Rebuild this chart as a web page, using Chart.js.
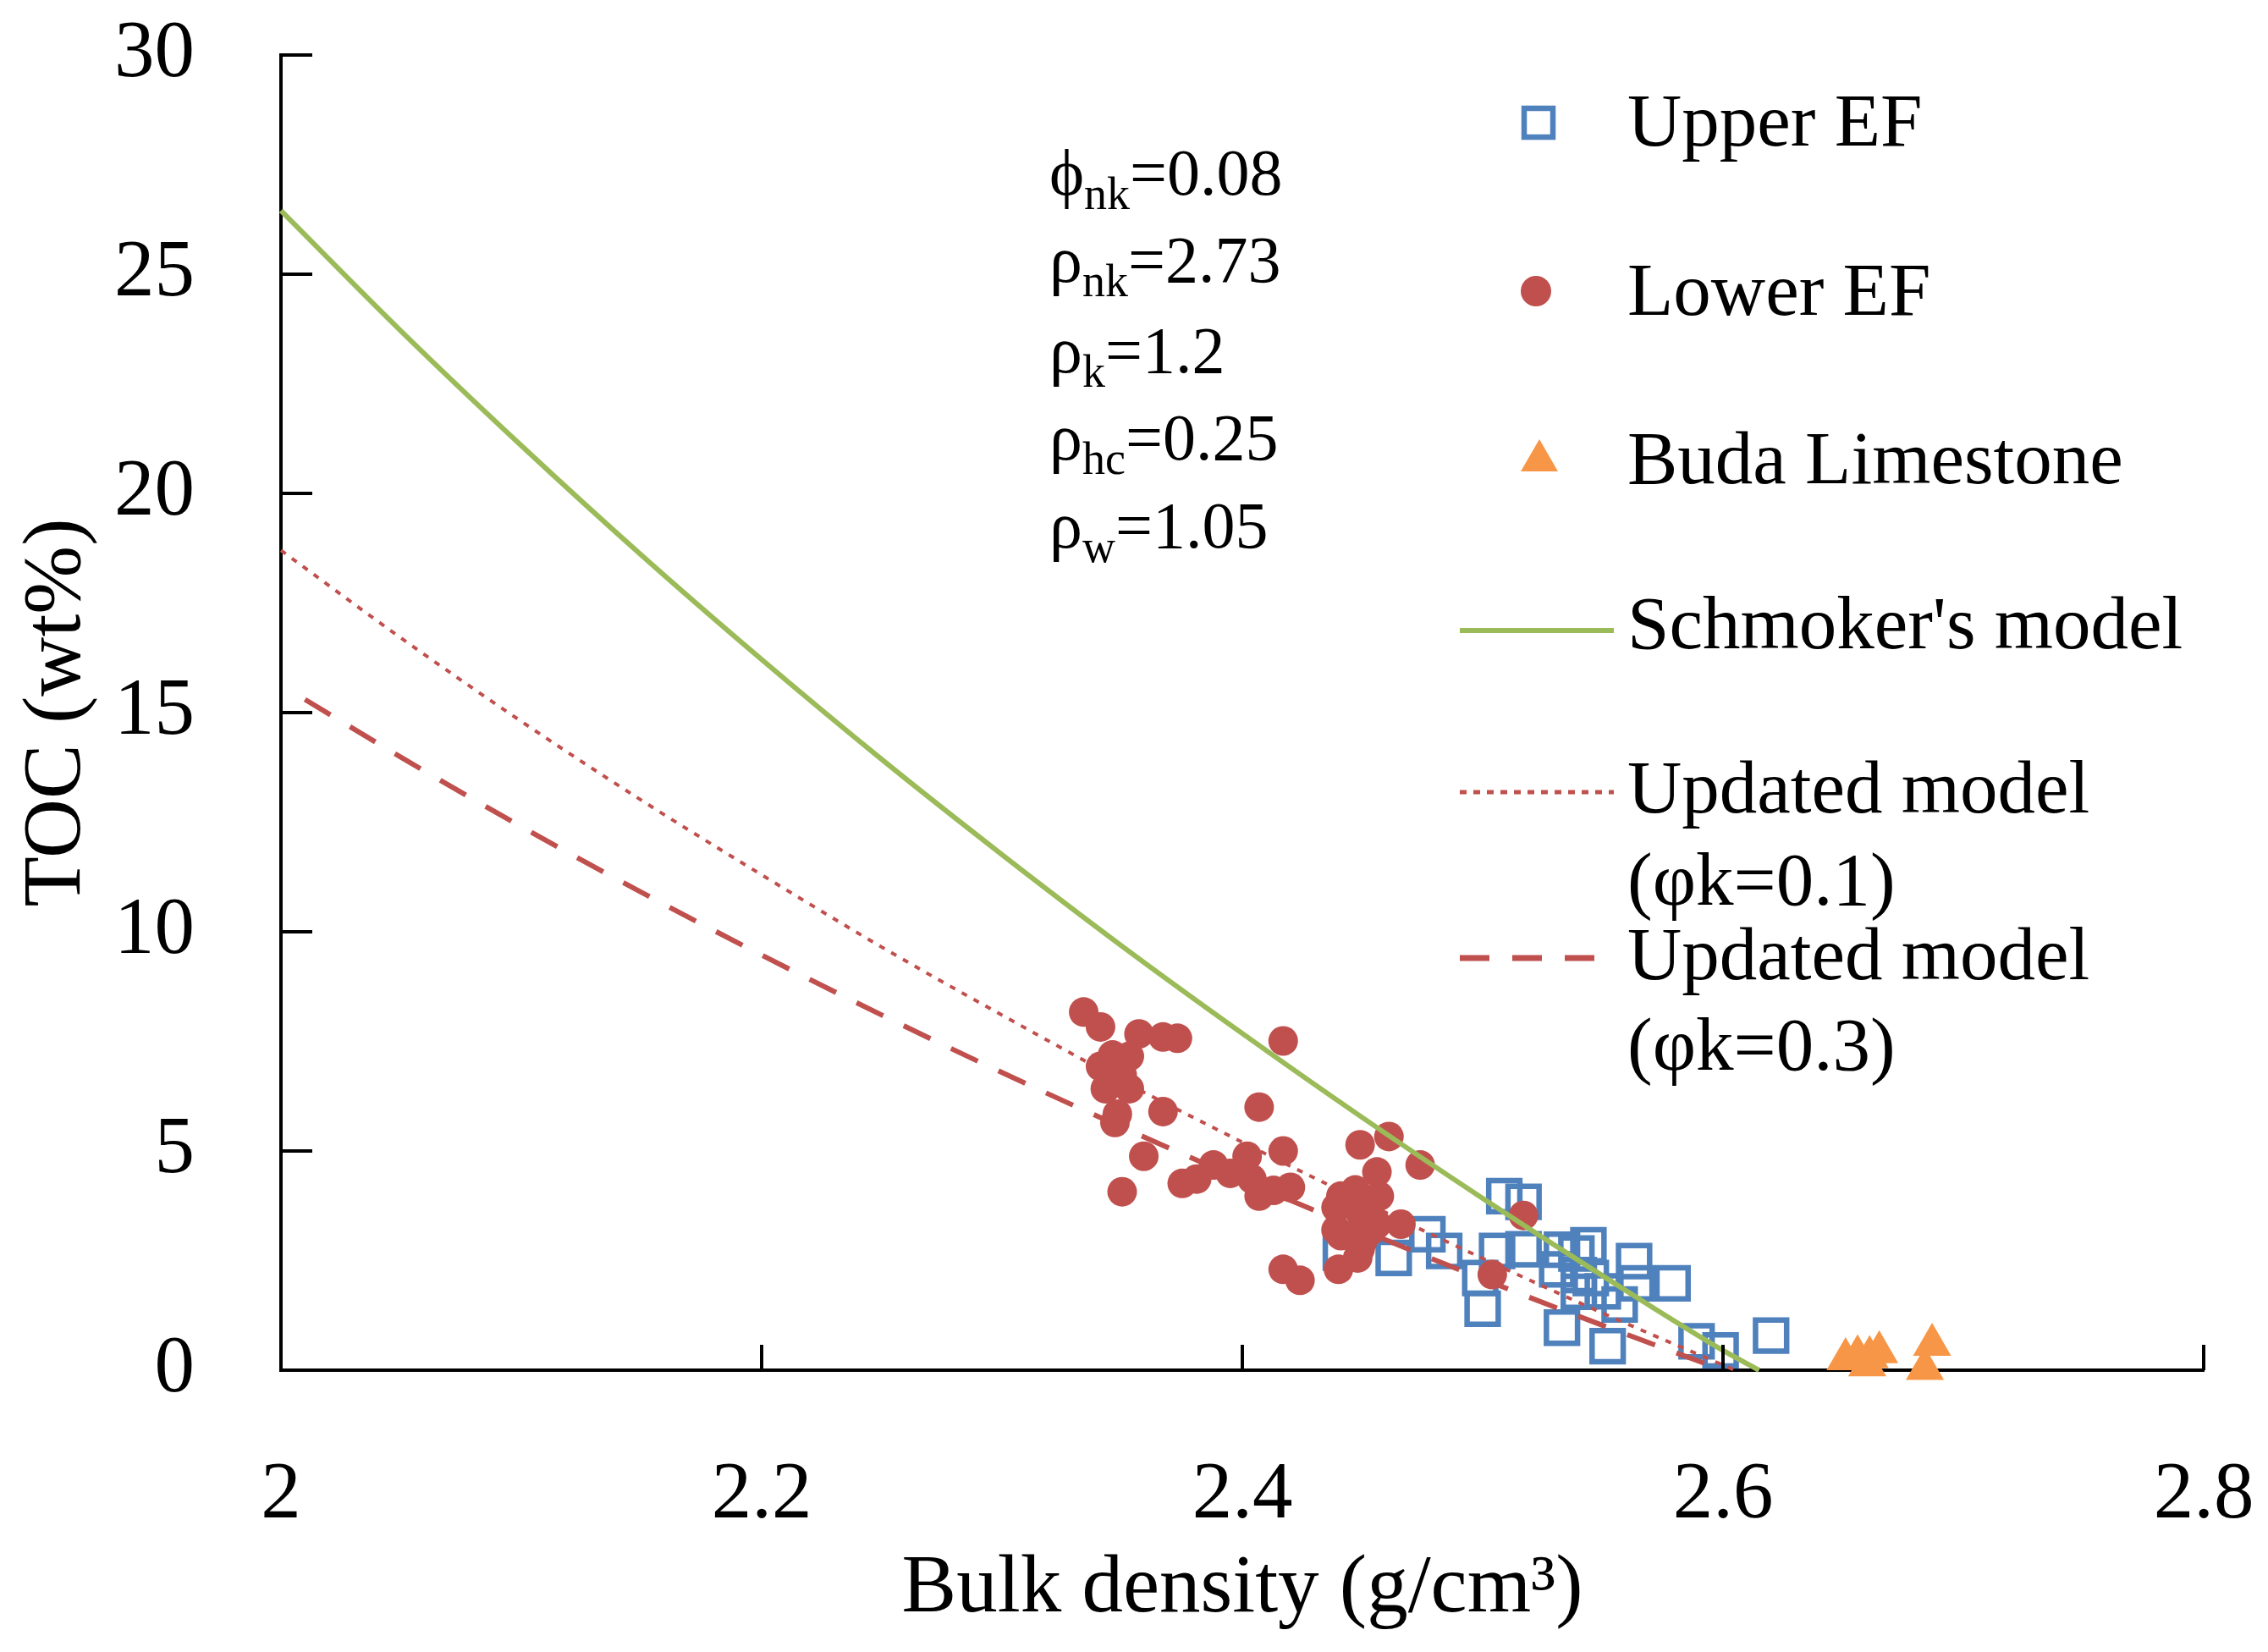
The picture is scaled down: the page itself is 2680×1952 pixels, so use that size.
<!DOCTYPE html>
<html>
<head>
<meta charset="utf-8">
<script src="https://cdn.jsdelivr.net/npm/chart.js@4.4.0/dist/chart.umd.min.js"></script>
<style>
  body { margin: 0; background: #fff; }
  #wrap { width: 2680px; height: 1952px; }
</style>
</head>
<body>
<div id="wrap"><canvas id="tocChart" width="2680" height="1952"></canvas></div>
<script>
// axis ticks
var densityTicks = [2, 2.2, 2.4, 2.6, 2.8];
var tocTicks = [0, 5, 10, 15, 20, 25, 30];

// Upper EF (blue squares)
var upperDensity = [2.441, 2.463, 2.477, 2.484, 2.499, 2.500, 2.506, 2.509, 2.517, 2.517, 2.533, 2.539, 2.531, 2.540, 2.540, 2.550, 2.557, 2.563, 2.564, 2.579, 2.533, 2.552, 2.589, 2.599, 2.620, 2.545, 2.544];
var upperToc     = [2.68, 2.56, 3.10, 2.72, 2.10, 1.40, 2.72, 3.97, 3.84, 2.76, 2.75, 2.66, 2.30, 2.17, 1.79, 1.80, 1.50, 2.49, 1.98, 1.98, 0.97, 0.55, 0.66, 0.45, 0.79, 2.10, 2.85];

// Lower EF (red circles)
var lowerDensity = [2.334, 2.341, 2.357, 2.367, 2.373, 2.346, 2.353, 2.341, 2.350, 2.343, 2.353, 2.348, 2.347, 2.367, 2.407, 2.417, 2.449, 2.461, 2.359, 2.417,
                    2.350, 2.375, 2.381, 2.388, 2.395, 2.402, 2.407, 2.404, 2.420, 2.413, 2.417, 2.424, 2.441, 2.456, 2.441, 2.449, 2.454, 2.440, 2.449, 2.457,
                    2.447, 2.474, 2.439, 2.450, 2.466, 2.439, 2.456, 2.450, 2.448, 2.517, 2.504];
var lowerToc     = [8.17, 7.83, 7.67, 7.60, 7.57, 7.19, 7.16, 6.93, 6.74, 6.42, 6.42, 5.84, 5.65, 5.90, 6.00, 7.51, 5.14, 5.33, 4.88, 5.00,
                    4.07, 4.26, 4.36, 4.68, 4.49, 4.88, 3.97, 4.36, 4.17, 4.10, 2.30, 2.05, 3.97, 4.52, 3.07, 3.59, 3.20, 2.30, 2.76, 3.97,
                    4.11, 4.68, 3.71, 3.78, 3.33, 3.20, 3.33, 2.94, 2.56, 3.53, 2.18];

// Buda Limestone (orange triangles)
var budaDensity = [2.651, 2.656, 2.661, 2.665, 2.660, 2.687, 2.684];
var budaToc     = [0.25, 0.32, 0.30, 0.41, 0.11, 0.58, 0.03];

// Schmoker's model
var schmokerDensity = [2.0, 2.05, 2.1, 2.15, 2.2, 2.25, 2.3, 2.35, 2.4, 2.45, 2.5, 2.55, 2.6, 2.615];
var schmokerToc     = [26.45, 23.70, 21.09, 18.59, 16.21, 13.93, 11.76, 9.67, 7.68, 5.76, 3.92, 2.15, 0.45, 0.0];

// Updated model (phi k = 0.1)
var upd1Density = [2.0, 2.05, 2.1, 2.15, 2.2, 2.25, 2.3, 2.35, 2.4, 2.45, 2.5, 2.55, 2.605];
var upd1Toc     = [18.7, 16.7, 14.8, 13.0, 11.3, 9.65, 8.1, 6.6, 5.2, 3.85, 2.55, 1.3, 0.0];

// Updated model (phi k = 0.3)
var upd3Density = [2.01, 2.05, 2.1, 2.15, 2.2, 2.25, 2.3, 2.35, 2.4, 2.45, 2.5, 2.55, 2.6];
var upd3Toc     = [15.3, 13.98, 12.40, 10.90, 9.47, 8.10, 6.79, 5.54, 4.34, 3.19, 2.08, 1.02, 0.0];

// parameter box
var paramSymbols = ['\u03D5', '\u03C1', '\u03C1', '\u03C1', '\u03C1'];
var paramSubs = ['nk', 'nk', 'k', 'hc', 'w'];
var paramValues = ['0.08', '2.73', '1.2', '0.25', '1.05'];

var BLUE = '#4F81BD', RED = '#C0504D', GREEN = '#9BBB59', ORANGE = '#F79646';
var SERIF = '"Liberation Serif", "Times New Roman", serif';

function pts(xs, ys) {
  return xs.map(function (x, i) { return { x: x, y: ys[i] }; });
}

// inward tick marks
var innerTicks = {
  id: 'innerTicks',
  afterDraw: function (chart) {
    var ctx = chart.ctx, xs = chart.scales.x, ys = chart.scales.y;
    var area = chart.chartArea;
    ctx.save();
    ctx.strokeStyle = '#000';
    ctx.lineWidth = 4;
    ctx.beginPath();
    tocTicks.forEach(function (v) {
      if (v === 0) return;
      var py = ys.getPixelForValue(v);
      ctx.moveTo(area.left, py);
      ctx.lineTo(area.left + 37, py);
    });
    densityTicks.forEach(function (v) {
      if (v === 2) return;
      var px = xs.getPixelForValue(v);
      ctx.moveTo(px, area.bottom);
      ctx.lineTo(px, area.bottom - 30);
    });
    ctx.stroke();
    ctx.restore();
  }
};

// legend and parameter text
var sideText = {
  id: 'sideText',
  afterDraw: function (chart) {
    var ctx = chart.ctx;
    ctx.save();
    ctx.fillStyle = '#000';
    ctx.textBaseline = 'alphabetic';
    ctx.textAlign = 'left';

    // parameters
    var baseY = [230, 333, 440, 543, 647];
    paramSymbols.forEach(function (s, i) {
      var x = 1240;
      ctx.font = '78px ' + SERIF;
      ctx.fillText(s, x, baseY[i]);
      x += ctx.measureText(s).width;
      ctx.font = '54px ' + SERIF;
      ctx.fillText(paramSubs[i], x, baseY[i] + 17);
      x += ctx.measureText(paramSubs[i]).width;
      ctx.font = '78px ' + SERIF;
      ctx.fillText('=' + paramValues[i], x, baseY[i]);
    });

    // legend
    var tx = 1923;
    ctx.font = '89px ' + SERIF;
    ctx.fillText('Upper EF', tx, 172);
    ctx.fillText('Lower EF', tx, 372);
    ctx.fillText('Buda Limestone', tx, 571);
    ctx.fillText("Schmoker's model", tx, 766);
    ctx.fillText('Updated model', tx, 960);
    ctx.fillText('(\u03C6k=0.1)', tx, 1069);
    ctx.fillText('Updated model', tx, 1157);
    ctx.fillText('(\u03C6k=0.3)', tx, 1264);

    ctx.strokeStyle = BLUE;
    ctx.lineWidth = 6.5;
    ctx.strokeRect(1818 - 17, 145 - 17, 34, 34);

    ctx.fillStyle = RED;
    ctx.beginPath();
    ctx.arc(1815, 344, 18, 0, Math.PI * 2);
    ctx.fill();

    ctx.fillStyle = ORANGE;
    ctx.beginPath();
    ctx.moveTo(1819, 544 - 25);
    ctx.lineTo(1819 + 22, 544 + 13);
    ctx.lineTo(1819 - 22, 544 + 13);
    ctx.closePath();
    ctx.fill();

    ctx.lineCap = 'butt';
    ctx.strokeStyle = GREEN;
    ctx.lineWidth = 6;
    ctx.beginPath();
    ctx.moveTo(1725, 745); ctx.lineTo(1907, 745);
    ctx.stroke();

    ctx.strokeStyle = RED;
    ctx.lineWidth = 5;
    ctx.setLineDash([8, 8]);
    ctx.beginPath();
    ctx.moveTo(1725, 936); ctx.lineTo(1907, 936);
    ctx.stroke();

    ctx.lineWidth = 7;
    ctx.setLineDash([35, 27]);
    ctx.beginPath();
    ctx.moveTo(1725, 1132); ctx.lineTo(1884, 1132);
    ctx.stroke();
    ctx.restore();
  }
};

var ctx = document.getElementById('tocChart').getContext('2d');
var chart = new Chart(ctx, {
  type: 'scatter',
  data: {
    datasets: [
      {
        label: "Schmoker's model",
        data: pts(schmokerDensity, schmokerToc),
        showLine: true, borderColor: GREEN, borderWidth: 6,
        pointRadius: 0, cubicInterpolationMode: 'monotone', order: 0, clip: false
      },
      {
        label: 'Updated model (\u03C6k=0.1)',
        data: pts(upd1Density, upd1Toc),
        showLine: true, borderColor: RED, borderWidth: 4, borderDash: [7, 9],
        pointRadius: 0, cubicInterpolationMode: 'monotone', order: 1, clip: false
      },
      {
        label: 'Updated model (\u03C6k=0.3)',
        data: pts(upd3Density, upd3Toc),
        showLine: true, borderColor: RED, borderWidth: 6, borderDash: [35, 27],
        pointRadius: 0, cubicInterpolationMode: 'monotone', order: 2, clip: false
      },
      {
        label: 'Lower EF',
        data: pts(lowerDensity, lowerToc),
        pointStyle: 'circle', pointRadius: 17.5, pointBorderWidth: 0,
        backgroundColor: RED, borderColor: RED, order: 3, clip: false
      },
      {
        label: 'Upper EF',
        data: pts(upperDensity, upperToc),
        pointStyle: 'rect', pointRadius: 26, pointBorderWidth: 6.5,
        backgroundColor: 'rgba(0,0,0,0)', borderColor: BLUE, order: 4, clip: false
      },
      {
        label: 'Buda Limestone',
        data: pts(budaDensity, budaToc),
        pointStyle: 'triangle', pointRadius: 26, pointBorderWidth: 0,
        backgroundColor: ORANGE, borderColor: ORANGE, order: 5, clip: false
      }
    ]
  },
  options: {
    responsive: false,
    devicePixelRatio: 1,
    animation: false,
    layout: { padding: { left: 0, right: 76, top: 65, bottom: 0 } },
    plugins: {
      legend: { display: false },
      tooltip: { enabled: false }
    },
    scales: {
      x: {
        type: 'linear', min: 2, max: 2.8,
        afterFit: function (s) { s.height = 333; s.paddingLeft = 0; s.paddingRight = 0; },
        afterBuildTicks: function (s) { s.ticks = densityTicks.map(function (v) { return { value: v }; }); },
        grid: { display: true, drawOnChartArea: false, drawTicks: false },
        border: { display: true, color: '#000', width: 4 },
        ticks: {
          padding: 92, color: '#000',
          font: { family: SERIF, size: 95 },
          callback: function (v) { return String(Math.round(v * 10) / 10); }
        },
        title: {
          display: true, text: 'Bulk density (g/cm\u00B3)', color: '#000',
          font: { family: SERIF, size: 97 },
          padding: { top: 0, bottom: 15 }
        }
      },
      y: {
        type: 'linear', min: 0, max: 30,
        afterFit: function (s) { s.width = 332; s.paddingTop = 0; s.paddingBottom = 0; },
        afterBuildTicks: function (s) { s.ticks = tocTicks.map(function (v) { return { value: v }; }); },
        grid: { display: true, drawOnChartArea: false, drawTicks: false },
        border: { display: true, color: '#000', width: 4 },
        ticks: {
          padding: 102, color: '#000',
          font: { family: SERIF, size: 95 }
        },
        title: {
          display: true, text: 'TOC (wt%)', color: '#000',
          font: { family: SERIF, size: 97 },
          padding: { top: 10, bottom: 0 }
        }
      }
    }
  },
  plugins: [innerTicks, sideText]
});
</script>
</body>
</html>
